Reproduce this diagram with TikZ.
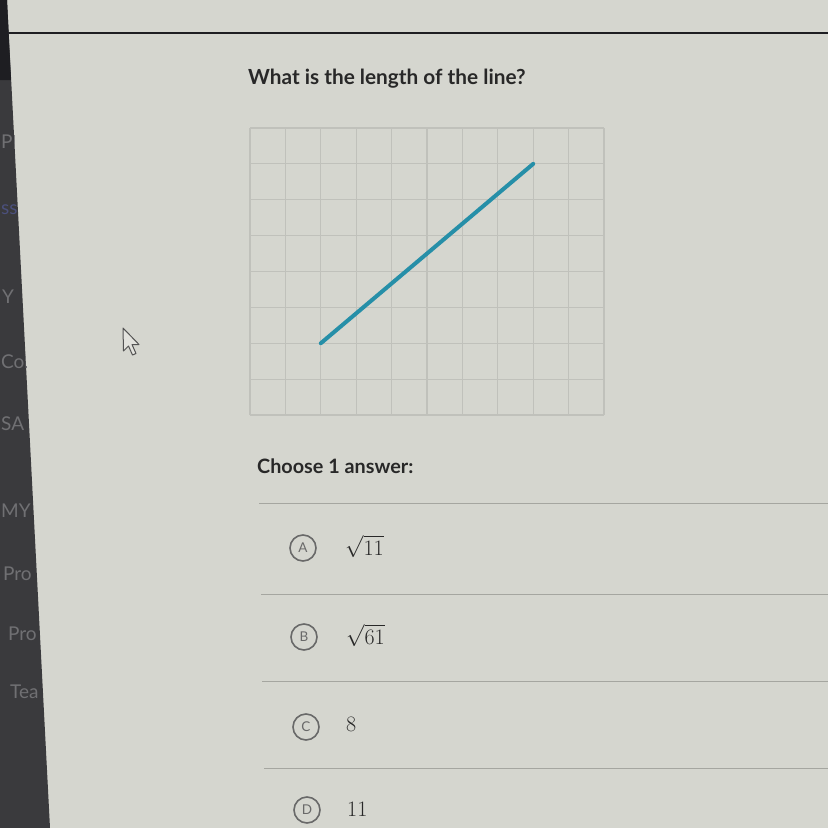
\RequirePackage{fix-cm}
\documentclass[tikz,border=0pt]{standalone}
\usepackage{fontspec}
\setmainfont{Lato}
\usepackage{xcolor}
\usepackage{amsmath}
\definecolor{screengray}{RGB}{213,214,207}
\definecolor{sidegray}{RGB}{58,58,61}
\definecolor{sidedark}{RGB}{30,30,34}
\definecolor{inkgray}{RGB}{40,40,40}
\definecolor{gridgray}{RGB}{192,193,187}
\definecolor{ruleteal}{RGB}{38,143,168}
\definecolor{rulegray}{RGB}{165,166,160}
\definecolor{optgray}{RGB}{105,105,105}
\definecolor{menugray}{RGB}{112,112,115}
\definecolor{menublue}{RGB}{75,80,125}
\usetikzlibrary{positioning}

\begin{document}
\begin{tikzpicture}[
    x=1pt, y=-1pt,
    question/.style={anchor=base west, inner sep=0pt, text=inkgray, font=\fontsize{20.8}{24}\selectfont\bfseries},
    prompt/.style={anchor=base west, inner sep=0pt, text=inkgray, font=\fontsize{19.8}{23}\selectfont\bfseries},
    option/.style={circle, draw=optgray, line width=1.6pt, minimum size=26pt, inner sep=0pt, text=optgray, font=\fontsize{13.5}{15}\selectfont},
    answer/.style={anchor=base west, inner sep=0pt, text=inkgray, font=\fontsize{22}{26}\selectfont},
    menu/.style={anchor=base west, inner sep=0pt, text=menugray, font=\fontsize{19}{22}\selectfont},
    gridline/.style={draw=gridgray, line width=1.2pt},
    divider/.style={draw=rulegray, line width=1pt},
    segment/.style={draw=ruleteal, line width=4pt, line cap=round}
]
    % Screen and frame
    \useasboundingbox (0,0) rectangle (828,828);
    \fill[screengray] (0,0) rectangle (828,828);
    \draw[sidedark, line width=1.6pt] (7,33) -- (828,33);
    \fill[sidegray] (0,0) -- (7,0) -- (50,828) -- (0,828) -- cycle;
    \fill[sidedark] (0,0) -- (7,0) -- (11,80) -- (0,80) -- cycle;

    % Side menu, cut off by the edge
    \begin{scope}
        \clip (0,0) -- (7,0) -- (50,828) -- (0,828) -- cycle;
        \node[menu] (m1) at (1,148) {PE};
        \node[menu, text=menublue] (m2) at (1,214) {ss};
        \node[menu] (m3) at (2,303) {Y};
        \node[menu] (m4) at (1,368) {Col};
        \node[menu] (m5) at (1,430) {SA};
        \node[menu] (m6) at (1,517) {MY};
        \node[menu] (m7) at (3,580) {Pro};
        \node[menu] (m8) at (8,640) {Pro};
        \node[menu] (m9) at (10,698) {Tea};
    \end{scope}

    % Mouse pointer
    \filldraw[fill=screengray!70!white, draw=inkgray!80, line width=1pt, line join=round]
        (123,328) -- (123.5,351) -- (128.5,346) -- (132.5,355) -- (136,353.5) -- (132,344.5) -- (139,344.5) -- cycle;

    % Question
    \node[question] (q) at (248,84) {What is the length of the line?};

    % Grid, 10 by 8 squares
    \foreach \i in {0,...,10}
        \draw[gridline] (250+\i*35.4,128) -- (250+\i*35.4,415);
    \foreach \j in {0,...,8}
        \draw[gridline] (250,128+\j*35.875) -- (604,128+\j*35.875);

    % The line
    \coordinate (start) at (250+2*35.4,415-2*35.875);
    \coordinate (end) at (250+8*35.4,415-7*35.875);
    \draw[segment] (start) -- (end);

    % Answers
    \node[prompt] (choose) at (257,473) {Choose 1 answer:};
    \draw[divider] (259,503) -- (828,503);
    \draw[divider] (261,594) -- (828,594);
    \draw[divider] (262,681) -- (828,681);
    \draw[divider] (264,768) -- (828,768);

    \node[option] (optA) at (303,548) {A};
    \node[option] (optB) at (304,637) {B};
    \node[option] (optC) at (306,727) {C};
    \node[option] (optD) at (307,810) {D};

    \node[answer] (ansA) at (345,555) {$\sqrt{11}$};
    \node[answer] (ansB) at (346,644) {$\sqrt{61}$};
    \node[answer] (ansC) at (346,731) {$8$};
    \node[answer] (ansD) at (347,816) {$11$};
\end{tikzpicture}
\end{document}
